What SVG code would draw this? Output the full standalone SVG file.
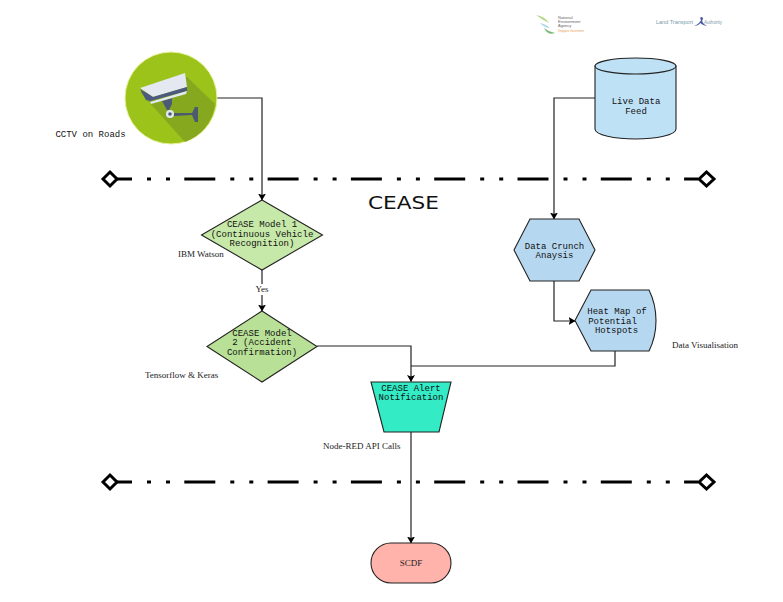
<svg xmlns="http://www.w3.org/2000/svg" width="783" height="602" viewBox="0 0 783 602">
<style>
.m{font-family:"Liberation Mono",monospace;font-size:9px;text-anchor:middle;fill:#111}
.s{font-family:"Liberation Serif",serif;font-size:9px;fill:#222}
.c{fill:none;stroke:#222;stroke-width:1.2}
.b{fill:none;stroke:#000;stroke-width:3}
.d{stroke:#000;stroke-width:3;stroke-dasharray:31 15 4 15 4 14.3}
.n{stroke:#222;stroke-width:1.1}
</style>
<defs>
<marker id="a" markerWidth="8" markerHeight="10" refX="6.5" refY="4" orient="auto" markerUnits="userSpaceOnUse"><path d="M0 0L7 4L0 8L1.5 4Z" fill="#000"/></marker>
</defs>
<rect width="783" height="602" fill="#fff"/>
<g id="swimlines">
<line class="d" x1="117" y1="179" x2="698" y2="179" stroke-dashoffset="16"/>
<path class="b" d="M103 179L110 172L117 179L110 186Z"/>
<path class="b" d="M699 179L706.500 172L714 179L706.500 186Z"/>
<line class="d" x1="117" y1="482" x2="698" y2="482" stroke-dashoffset="16"/>
<path class="b" d="M103 482L110 475L117 482L110 489Z"/>
<path class="b" d="M699 482L706.500 475L714 482L706.500 489Z"/>
</g>
<g id="logos">
<g id="logo-nea">
<path d="M536 15Q544 16 549 23Q543 20 536 15Z" fill="#9CCB5A" opacity=".8"/>
<path d="M540 23Q546 24 550 28Q544 28 540 23Z" fill="#9ED3E0" opacity=".8"/>
<path d="M544 28Q549 32 555 33Q548 36 544 28Z" fill="#5DA85A" opacity=".8"/>
<text x="558" y="19" font-family="Liberation Sans,sans-serif" font-size="4" fill="#666">National</text>
<text x="558" y="23" font-family="Liberation Sans,sans-serif" font-size="4" fill="#666">Environment</text>
<text x="558" y="27" font-family="Liberation Sans,sans-serif" font-size="4" fill="#666">Agency</text>
<text x="558" y="32" font-family="Liberation Sans,sans-serif" font-size="3.500" fill="#E8A050" textLength="26" lengthAdjust="spacingAndGlyphs">Singapore Government</text>
</g>
<g id="logo-lta">
<text x="656" y="24" font-family="Liberation Sans,sans-serif" font-size="5" fill="#7A9AAA" textLength="37" lengthAdjust="spacingAndGlyphs">Land Transport</text>
<text x="704" y="24" font-family="Liberation Sans,sans-serif" font-size="5" fill="#7A9AAA" textLength="18" lengthAdjust="spacingAndGlyphs">Authority</text>
<path d="M694 26Q699 24 701 20Q699 17 702 17Q704 18 702 21Q703 24 707 26Q702 25 700.500 23Q698 26 694 26Z" fill="#4A5AA8"/>
</g>
</g>
<g id="connectors">
<path class="c" d="M217 98H262V200" marker-end="url(#a)"/>
<path class="c" d="M595 98H554V219" marker-end="url(#a)"/>
<path class="c" d="M262 270V311" marker-end="url(#a)"/>
<path class="c" d="M554 281V321H575" marker-end="url(#a)"/>
<path class="c" d="M317 346H411V381.500" marker-end="url(#a)"/>
<path class="c" d="M615 351V366H411"/>
<path class="c" d="M411 432V543" marker-end="url(#a)"/>
</g>
<g id="cctv">
<circle cx="171" cy="98" r="46" fill="#9BC31A" stroke="#E8F2A0" stroke-width="1"/>
<path d="M140 92L187 77L215 104A46 46 0 0 1 185 142Z" fill="#86A81F"/>
<path d="M162 101L172 98L172 104L169 110H167Z" fill="#4C5A78"/>
<path d="M140 88L185 73L187 87L153 97Z" fill="#E4E8F0"/>
<path d="M140 89L153 97L187 87L187 91L150 101L146 100Z" fill="#4C5A80"/>
<path d="M150 102L187 91L186 94L151 104Z" fill="#E4E8F0"/>
<circle cx="170" cy="114" r="4" fill="#E4E8F0"/>
<circle cx="170" cy="114" r="1.800" fill="#4C5A80"/>
<path d="M174 113L192 113L195 107H198V122H195L192 115L174 116Z" fill="#4C5A70"/>
</g>
<g id="cctv-label"><text class="m" x="90.500" y="137">CCTV on Roads</text></g>
<g id="cylinder">
<path class="n" d="M595 66V129C595 135 615 139 635.500 139S676 135 676 129V66Z" fill="#BFE1F6"/>
<ellipse class="n" cx="635.500" cy="66" rx="40.500" ry="8" fill="#BFE1F6"/>
<text class="m" x="636" y="104">Live Data</text>
<text class="m" x="636" y="114">Feed</text>
</g>
<g id="title"><text x="368" y="209" font-family="DejaVu Sans,sans-serif" font-size="17" textLength="71" lengthAdjust="spacingAndGlyphs" fill="#111">CEASE</text></g>
<g id="model1">
<path class="n" d="M262 200L322.500 235L262 270L201.500 235Z" fill="#C6E8A8"/>
<text class="m" x="262" y="227">CEASE Model 1</text>
<text class="m" x="262" y="237">(Continuous Vehicle</text>
<text class="m" x="262" y="246">Recognition)</text>
</g>
<g id="model1-label"><text class="s" x="178" y="257">IBM Watson</text></g>
<g id="yes"><rect x="254" y="284" width="15" height="11" fill="#fff"/><text class="s" x="262" y="292" text-anchor="middle">Yes</text></g>
<g id="model2">
<path class="n" d="M262 311L317 346.500L262 382L207 346.500Z" fill="#B8E096"/>
<text class="m" x="262" y="336">CEASE Model</text>
<text class="m" x="262" y="345">2 (Accident</text>
<text class="m" x="262" y="355">Confirmation)</text>
</g>
<g id="model2-label"><text class="s" x="145" y="378">Tensorflow &amp; Keras</text></g>
<g id="crunch">
<path class="n" d="M530 219H579L595 250L579 281H530L514 250Z" fill="#B6D7F0"/>
<text class="m" x="554.500" y="249">Data Crunch</text>
<text class="m" x="554.500" y="258">Anaysis</text>
</g>
<g id="heatmap">
<path class="n" d="M591 290H649Q656 304 656 320.500Q656 337 649 351H591L575 320.500Z" fill="#B6D7F0"/>
<text class="m" x="617" y="314">Heat Map of</text>
<text class="m" x="612.500" y="323.500">Potential</text>
<text class="m" x="616.500" y="333">Hotspots</text>
</g>
<g id="heatmap-label"><text class="s" x="672" y="348">Data Visualisation</text></g>
<g id="alert">
<path class="n" d="M371 382H451L439 432H384Z" fill="#33EBC5"/>
<text class="m" x="411" y="391">CEASE Alert</text>
<text class="m" x="411" y="400">Notification</text>
</g>
<g id="alert-label"><text class="s" x="323" y="449">Node-RED API Calls</text></g>
<g id="scdf">
<rect class="n" x="371" y="543" width="80" height="40" rx="20" fill="#FFB3AB"/>
<text x="411" y="566" font-family="Liberation Serif,serif" font-size="9" text-anchor="middle" fill="#222">SCDF</text>
</g>
</svg>
